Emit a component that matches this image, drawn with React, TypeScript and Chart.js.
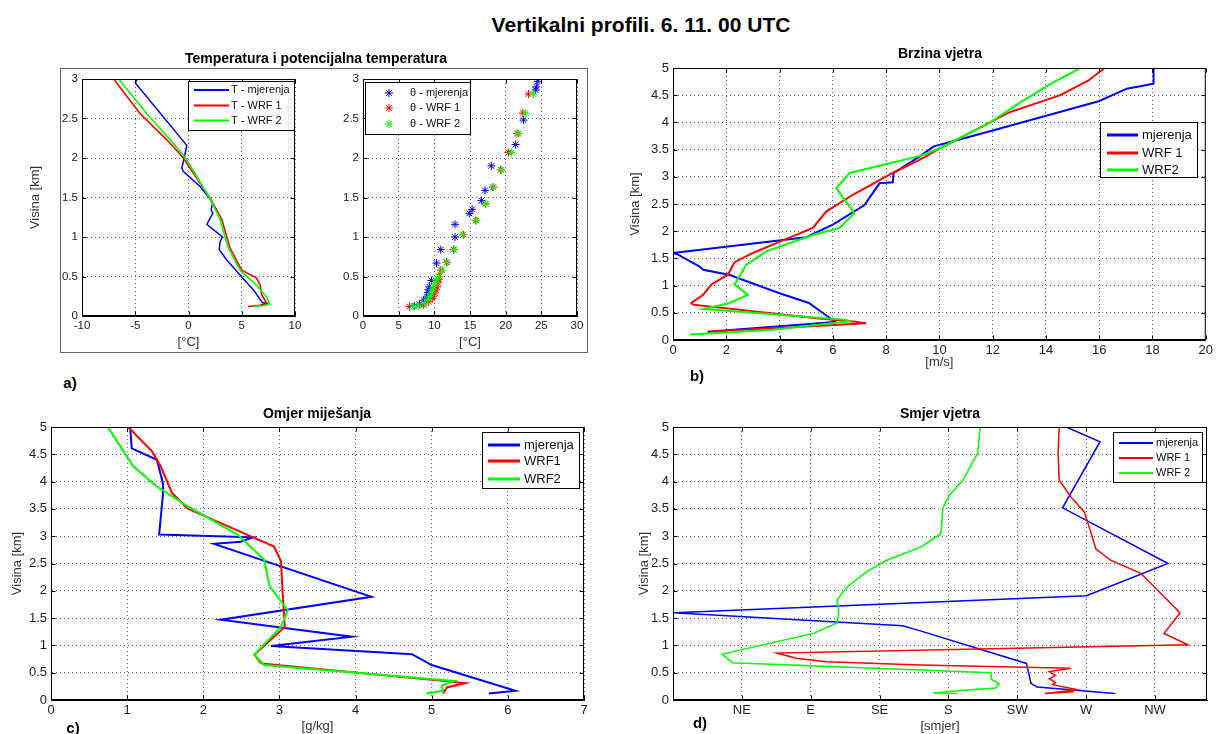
import React, { useEffect, useRef } from "react";
import { Chart, registerables } from "chart.js";

Chart.register(...registerables);

const FONT = '"Liberation Sans", Arial, Helvetica, sans-serif';
const BLUE = "#0000ff";
const RED = "#ff0000";
const GREEN = "#00ff00";

// ---------- a) temperature ----------
const tObsH = [3.0, 2.95, 2.16, 2.06, 1.91, 1.88, 1.83, 1.64, 1.47, 1.43, 1.34, 1.3, 1.16, 1.0, 0.94, 0.84, 0.71, 0.52, 0.33, 0.17, 0.16, 0.14];
const tObsT = [-4.8, -5.0, -0.16, -0.31, -0.56, -0.63, -0.5, 1.09, 2.09, 2.25, 2.13, 2.28, 1.72, 3.19, 2.97, 2.88, 3.6, 4.84, 6.1, 6.94, 7.34, 6.8];
const tWrf1H = [3.0, 2.56, 2.23, 2.01, 1.87, 1.68, 1.48, 1.22, 1.0, 0.86, 0.58, 0.48, 0.39, 0.27, 0.16, 0.14, 0.12];
const tWrf1T = [-7.03, -4.53, -2.03, -0.53, 0.16, 1.09, 2.09, 3.13, 3.59, 3.9, 5.0, 6.4, 6.72, 6.88, 7.34, 7.0, 5.6];
const tWrf2H = [3.0, 2.56, 2.23, 2.02, 1.87, 1.68, 1.48, 1.22, 1.0, 0.86, 0.58, 0.39, 0.24, 0.15, 0.13, 0.12];
const tWrf2T = [-6.56, -3.9, -1.72, -0.4, 0.31, 1.15, 2.05, 2.97, 3.44, 3.75, 4.84, 6.4, 7.34, 7.6, 7.03, 6.1];

// ---------- a) potential temperature ----------
const thObsH = [2.97, 2.9, 2.86, 2.48, 2.17, 1.9, 1.59, 1.46, 1.35, 1.3, 1.16, 1.0, 0.84, 0.67, 0.45, 0.37, 0.33, 0.3, 0.24, 0.2, 0.15, 0.13];
const thObsV = [24.5, 24.3, 24.2, 22.5, 21.4, 18.0, 17.1, 16.6, 15.3, 14.9, 12.9, 12.9, 10.9, 10.3, 9.6, 9.3, 9.2, 9.1, 8.9, 8.5, 7.9, 7.2];
const thWrf1H = [2.81, 2.57, 2.31, 2.07, 1.85, 1.63, 1.42, 1.21, 1.03, 0.84, 0.68, 0.58, 0.5, 0.46, 0.42, 0.37, 0.33, 0.29, 0.25, 0.22, 0.18, 0.14, 0.12];
const thWrf1V = [23.2, 22.4, 21.6, 20.4, 19.3, 18.2, 17.2, 15.8, 14.1, 12.7, 11.7, 10.9, 10.7, 10.6, 10.5, 10.4, 10.2, 10.05, 9.85, 9.7, 9.2, 8.5, 6.5];
const thWrf2H = [2.81, 2.57, 2.31, 2.07, 1.85, 1.63, 1.42, 1.21, 1.03, 0.84, 0.68, 0.58, 0.5, 0.46, 0.42, 0.37, 0.33, 0.29, 0.25, 0.21, 0.16, 0.13, 0.12];
const thWrf2V = [23.9, 22.8, 21.8, 20.8, 19.4, 18.3, 17.2, 15.9, 14.0, 12.8, 11.8, 11.1, 10.6, 10.3, 10.1, 9.9, 9.7, 9.6, 9.4, 9.1, 8.6, 7.8, 7.1];

// ---------- b) wind speed ----------
const wsObsH = [0.15, 0.33, 0.4, 0.68, 0.86, 1.2, 1.29, 1.35, 1.57, 1.6, 1.89, 2.12, 2.48, 2.88, 2.9, 3.07, 3.37, 3.56, 3.65, 3.85, 4.39, 4.62, 4.71, 4.98, 5.0];
const wsObsV = [1.3, 6.1, 5.9, 5.1, 4.0, 2.1, 1.13, 1.0, 0.19, 0.0, 5.0, 6.0, 7.19, 7.75, 8.25, 8.28, 9.25, 9.79, 10.48, 12.0, 15.98, 17.04, 18.04, 18.04, 18.1];
const wsWrf1H = [0.15, 0.31, 0.34, 0.4, 0.65, 0.68, 0.83, 1.02, 1.2, 1.43, 1.6, 1.78, 2.06, 2.36, 2.67, 3.07, 3.31, 3.52, 3.91, 4.18, 4.5, 4.77, 5.0];
const wsWrf1V = [1.38, 7.25, 6.75, 5.38, 0.75, 0.69, 1.13, 1.44, 2.06, 2.31, 3.0, 3.88, 5.25, 5.75, 6.75, 8.25, 9.25, 10.0, 11.54, 12.6, 14.54, 15.6, 16.2];
const wsWrf2H = [0.1, 0.19, 0.34, 0.37, 0.57, 0.68, 0.83, 1.02, 1.38, 1.63, 1.93, 2.06, 2.33, 2.79, 3.07, 3.38, 3.52, 3.98, 4.35, 4.72, 5.0];
const wsWrf2V = [0.63, 3.75, 6.63, 6.5, 1.16, 2.13, 2.81, 2.31, 2.75, 3.5, 5.25, 6.25, 6.81, 6.13, 6.63, 9.25, 10.0, 11.85, 12.98, 14.23, 15.29];

// ---------- c) mixing ratio ----------
const mrObsH = [4.99, 4.61, 4.4, 3.97, 3.76, 3.03, 2.98, 2.9, 2.86, 1.89, 1.47, 1.16, 0.99, 0.84, 0.64, 0.17, 0.12];
const mrObsV = [1.04, 1.06, 1.39, 1.47, 1.47, 1.42, 2.65, 2.49, 2.14, 4.21, 2.23, 3.95, 2.89, 4.74, 5.0, 6.1, 5.75];
const mrWrf1H = [4.99, 4.55, 4.28, 3.79, 3.51, 3.06, 2.81, 2.54, 2.02, 1.34, 1.22, 0.83, 0.67, 0.31, 0.23, 0.12];
const mrWrf1V = [1.02, 1.33, 1.44, 1.59, 1.79, 2.52, 2.93, 3.02, 3.04, 3.07, 2.98, 2.67, 2.76, 5.44, 5.2, 5.15];
const mrWrf2H = [4.99, 4.8, 4.28, 3.91, 3.55, 3.03, 2.57, 2.08, 1.65, 1.34, 0.83, 0.64, 0.35, 0.26, 0.17, 0.12];
const mrWrf2V = [0.75, 0.84, 1.08, 1.39, 1.79, 2.45, 2.8, 2.87, 3.11, 3.02, 2.67, 2.8, 5.29, 5.13, 5.15, 4.93];

// ---------- d) wind direction (degrees) ----------
const wdObsH = [4.99, 4.73, 3.52, 2.5, 1.91, 1.6, 1.36, 1.28, 0.67, 0.3, 0.24, 0.12];
const wdObsV = [257.8, 279.1, 254.6, 323.5, 270.2, 0.5, 150, 160, 231, 234, 238, 289];
const wdWrf1H = [4.99, 4.52, 4.03, 3.72, 3.45, 3.02, 2.77, 2.56, 2.32, 1.65, 1.59, 1.22, 1.01, 0.86, 0.76, 0.7, 0.64, 0.58, 0.52, 0.45, 0.39, 0.32, 0.28, 0.19, 0.12, 0.15];
const wdWrf1V = [252.4, 251.7, 252.4, 260, 268.7, 273.7, 276.3, 286, 305.7, 329.6, 331.3, 320.9, 336.5, 68, 81, 100.6, 161.5, 260, 246, 250, 246, 250, 248, 264, 243, 262];
const wdWrf2H = [4.99, 4.52, 4.02, 3.75, 3.51, 3.05, 2.8, 2.56, 2.35, 2.07, 1.83, 1.59, 1.41, 1.22, 0.84, 0.68, 0.5, 0.38, 0.3, 0.22, 0.17, 0.13, 0.12];
const wdWrf2V = [200.7, 199.1, 189.3, 180.7, 176.3, 175.2, 162, 139.8, 126.7, 113.7, 107.2, 108.3, 107.2, 92, 32.2, 38.7, 207.8, 208, 213, 211, 186, 170, 186];

// ---------- ticks ----------
const tempTicks = [-10, -5, 0, 5, 10];
const thetaTicks = [0, 5, 10, 15, 20, 25, 30];
const heightTicks3 = [0, 0.5, 1, 1.5, 2, 2.5, 3];
const heightTicks5 = [0, 0.5, 1, 1.5, 2, 2.5, 3, 3.5, 4, 4.5, 5];
const speedTicks = [0, 2, 4, 6, 8, 10, 12, 14, 16, 18, 20];
const mixTicks = [0, 1, 2, 3, 4, 5, 6, 7];
const dirTicks = [45, 90, 135, 180, 225, 270, 315];
const dirLabels = ["NE", "E", "SE", "S", "SW", "W", "NW"];

const pts = (xs: number[], hs: number[]) => xs.map((x, i) => ({ x, y: hs[i] }));

function lineDs(label: string, xs: number[], hs: number[], color: string, width: number, order: number) {
  return {
    label,
    data: pts(xs, hs),
    borderColor: color,
    backgroundColor: color,
    showLine: true,
    pointRadius: 0,
    borderWidth: width,
    tension: 0,
    order,
  };
}

function starDs(label: string, xs: number[], hs: number[], color: string, order: number) {
  return {
    label,
    data: pts(xs, hs),
    borderColor: color,
    backgroundColor: color,
    pointBorderColor: color,
    showLine: false,
    pointStyle: "star",
    pointRadius: 4,
    pointBorderWidth: 1,
    order,
  };
}

const matlabPlugin = {
  id: "matlab",
  afterDraw(chart: any, _args: any, opts: any) {
    const { ctx, chartArea: a } = chart;
    const xs = chart.scales.x;
    const ys = chart.scales.y;
    ctx.save();
    ctx.setLineDash([]);
    ctx.strokeStyle = "#000";
    ctx.lineWidth = 1;
    const L = a.left + 0.5, R = a.right - 0.5, T = a.top + 0.5, B = a.bottom - 0.5;
    ctx.beginPath();
    for (const t of xs.ticks) {
      const px = Math.round(xs.getPixelForValue(t.value)) + 0.5;
      ctx.moveTo(px, B); ctx.lineTo(px, B - 4);
      ctx.moveTo(px, T); ctx.lineTo(px, T + 4);
    }
    for (const t of ys.ticks) {
      const py = Math.round(ys.getPixelForValue(t.value)) + 0.5;
      ctx.moveTo(L, py); ctx.lineTo(L + 4, py);
      ctx.moveTo(R, py); ctx.lineTo(R - 4, py);
    }
    ctx.stroke();
    ctx.strokeRect(L, T, R - L, B - T);

    const lg = opts && opts.box;
    if (lg) {
      ctx.fillStyle = "#fff";
      ctx.fillRect(lg.x, lg.y, lg.w, lg.h);
      ctx.strokeStyle = "#000";
      ctx.lineWidth = 1;
      ctx.strokeRect(lg.x + 0.5, lg.y + 0.5, lg.w, lg.h);
      ctx.font = `${lg.size}px ${FONT}`;
      ctx.textBaseline = "middle";
      ctx.textAlign = "left";
      chart.data.datasets.forEach((ds: any, i: number) => {
        const y = lg.rows[i];
        ctx.strokeStyle = ds.borderColor;
        if (lg.star) {
          const r = 4, cx = lg.x0, d = r * 0.707;
          ctx.lineWidth = 1;
          ctx.beginPath();
          ctx.moveTo(cx - r, y); ctx.lineTo(cx + r, y);
          ctx.moveTo(cx, y - r); ctx.lineTo(cx, y + r);
          ctx.moveTo(cx - d, y - d); ctx.lineTo(cx + d, y + d);
          ctx.moveTo(cx - d, y + d); ctx.lineTo(cx + d, y - d);
          ctx.stroke();
        } else {
          ctx.lineWidth = lg.lw;
          ctx.beginPath();
          ctx.moveTo(lg.x0, y); ctx.lineTo(lg.x1, y);
          ctx.stroke();
        }
        ctx.fillStyle = "#111";
        ctx.fillText(ds.label, lg.tx, y);
      });
    }
    ctx.restore();
  },
};

type Box = { left: number; top: number; w: number; h: number };
type Area = { l: number; t: number; r: number; b: number };
type Spec = {
  canvas: Box;
  area: Area;
  datasets: any[];
  xMin: number; xMax: number; xTicks: number[]; xFmt?: (v: number) => string;
  yMax: number; yTicks: number[];
  tickSize: number;
  xTitle: string; xTitleY: number;
  yTitle?: string; yTitleX?: number;
  legend: { x: number; y: number; w: number; h: number; x0: number; x1: number; tx: number; rows: number[]; size: number; lw: number; star?: boolean };
};

function buildConfig(p: Spec) {
  const c = p.canvas, a = p.area;
  const yW = a.l - c.left;
  const xH = c.top + c.h - a.b;
  const titleSize = 13;
  const lh = titleSize * 1.2;
  const tickFont = { family: FONT, size: p.tickSize };
  const grid = { color: "rgba(0,0,0,0.6)", lineWidth: 1, drawTicks: false };
  const border = { display: true, color: "#000", width: 1, dash: [1, 3] };
  const lg = p.legend;
  return {
    type: "scatter",
    data: { datasets: p.datasets },
    options: {
      responsive: false,
      animation: false,
      events: [],
      layout: { padding: { left: 0, top: a.t - c.top, right: c.left + c.w - a.r, bottom: 0 } },
      plugins: {
        legend: { display: false },
        tooltip: { enabled: false },
        matlab: {
          box: {
            x: lg.x - c.left, y: lg.y - c.top, w: lg.w, h: lg.h,
            x0: lg.x0 - c.left, x1: lg.x1 - c.left, tx: lg.tx - c.left,
            rows: lg.rows.map((r) => r - c.top), size: lg.size, lw: lg.lw, star: !!lg.star,
          },
        },
      },
      scales: {
        x: {
          type: "linear",
          position: "bottom",
          min: p.xMin,
          max: p.xMax,
          afterBuildTicks: (s: any) => { s.ticks = p.xTicks.map((v) => ({ value: v })); },
          afterFit: (s: any) => { s.height = xH; },
          ticks: { font: tickFont, color: "#222", padding: 3, autoSkip: false, maxRotation: 0, callback: (v: any) => (p.xFmt ? p.xFmt(v) : String(v)) },
          grid,
          border,
          title: {
            display: true, text: p.xTitle, color: "#333",
            font: { family: FONT, size: titleSize },
            padding: { top: 0, bottom: Math.max(0, c.top + c.h - p.xTitleY - lh / 2) },
          },
        },
        y: {
          type: "linear",
          position: "left",
          min: 0,
          max: p.yMax,
          afterBuildTicks: (s: any) => { s.ticks = p.yTicks.map((v) => ({ value: v })); },
          afterFit: (s: any) => { s.width = yW; },
          ticks: { font: tickFont, color: "#222", padding: 4, autoSkip: false, callback: (v: any) => String(v) },
          grid,
          border,
          title: p.yTitle
            ? {
                display: true, text: p.yTitle, color: "#333",
                font: { family: FONT, size: titleSize },
                padding: { top: Math.max(0, (p.yTitleX as number) - c.left - lh / 2), bottom: 0 },
              }
            : { display: false },
        },
      },
    },
    plugins: [matlabPlugin],
  };
}

const specs: Spec[] = [
  {
    canvas: { left: 10, top: 60, w: 300, h: 300 },
    area: { l: 82, t: 79, r: 295, b: 316 },
    datasets: [
      lineDs("T - mjerenja", tObsT, tObsH, BLUE, 1.5, 2),
      lineDs("T - WRF 1", tWrf1T, tWrf1H, RED, 1.6, 1),
      lineDs("T - WRF 2", tWrf2T, tWrf2H, GREEN, 1.6, 0),
    ],
    xMin: -10, xMax: 10, xTicks: tempTicks, yMax: 3, yTicks: heightTicks3, tickSize: 11.5,
    xTitle: "[°C]", xTitleY: 342, yTitle: "Visina [km]", yTitleX: 35,
    legend: { x: 188, y: 81, w: 106, h: 49, x0: 194, x1: 229, tx: 231, rows: [90, 105.5, 120.5], size: 11, lw: 2 },
  },
  {
    canvas: { left: 310, top: 60, w: 280, h: 300 },
    area: { l: 363, t: 79, r: 577, b: 316 },
    datasets: [
      starDs("θ - mjerenja", thObsV, thObsH, BLUE, 2),
      starDs("θ - WRF 1", thWrf1V, thWrf1H, RED, 1),
      starDs("θ - WRF 2", thWrf2V, thWrf2H, GREEN, 0),
    ],
    xMin: 0, xMax: 30, xTicks: thetaTicks, yMax: 3, yTicks: heightTicks3, tickSize: 11.5,
    xTitle: "[°C]", xTitleY: 342,
    legend: { x: 365, y: 82, w: 105, h: 52, x0: 389, x1: 389, tx: 410, rows: [93, 108, 124], size: 11, lw: 1, star: true },
  },
  {
    canvas: { left: 610, top: 40, w: 606, h: 340 },
    area: { l: 673, t: 68, r: 1207, b: 340 },
    datasets: [
      lineDs("mjerenja", wsObsV, wsObsH, BLUE, 2, 2),
      lineDs("WRF 1", wsWrf1V, wsWrf1H, RED, 2, 1),
      lineDs("WRF2", wsWrf2V, wsWrf2H, GREEN, 2, 0),
    ],
    xMin: 0, xMax: 20, xTicks: speedTicks, yMax: 5, yTicks: heightTicks5, tickSize: 13,
    xTitle: "[m/s]", xTitleY: 362, yTitle: "Visina [km]", yTitleX: 635,
    legend: { x: 1100, y: 122, w: 97, h: 55, x0: 1107, x1: 1138, tx: 1142, rows: [135, 153, 170], size: 13, lw: 3 },
  },
  {
    canvas: { left: 0, top: 410, w: 600, h: 324 },
    area: { l: 51, t: 427, r: 584, b: 700 },
    datasets: [
      lineDs("mjerenja", mrObsV, mrObsH, BLUE, 2, 2),
      lineDs("WRF1", mrWrf1V, mrWrf1H, RED, 2, 1),
      lineDs("WRF2", mrWrf2V, mrWrf2H, GREEN, 2, 0),
    ],
    xMin: 0, xMax: 7, xTicks: mixTicks, yMax: 5, yTicks: heightTicks5, tickSize: 13,
    xTitle: "[g/kg]", xTitleY: 727, yTitle: "Visina [km]", yTitleX: 17,
    legend: { x: 482, y: 432, w: 97, h: 56, x0: 488, x1: 520, tx: 524, rows: [445, 461, 479], size: 13, lw: 3 },
  },
  {
    canvas: { left: 610, top: 410, w: 606, h: 324 },
    area: { l: 673, t: 427, r: 1207, b: 700 },
    datasets: [
      lineDs("mjerenja", wdObsV, wdObsH, BLUE, 1.5, 2),
      lineDs("WRF 1", wdWrf1V, wdWrf1H, RED, 1.5, 1),
      lineDs("WRF 2", wdWrf2V, wdWrf2H, GREEN, 1.5, 0),
    ],
    xMin: 0, xMax: 349, xTicks: dirTicks, xFmt: (v: number) => dirLabels[dirTicks.indexOf(v)] ?? "",
    yMax: 5, yTicks: heightTicks5, tickSize: 13,
    xTitle: "[smjer]", xTitleY: 726, yTitle: "Visina [km]", yTitleX: 644,
    legend: { x: 1113, y: 432, w: 89, h: 50, x0: 1119, x1: 1153, tx: 1156, rows: [443, 458, 473], size: 11, lw: 2 },
  },
];

function Panel({ spec }: { spec: Spec }) {
  const ref = useRef<HTMLCanvasElement | null>(null);
  useEffect(() => {
    if (!ref.current) return;
    const chart = new Chart(ref.current, buildConfig(spec) as any);
    return () => chart.destroy();
  }, [spec]);
  const c = spec.canvas;
  return (
    <canvas
      ref={ref}
      width={c.w}
      height={c.h}
      style={{ position: "absolute", left: c.left, top: c.top, width: c.w, height: c.h }}
    />
  );
}

function Label({ text, x, y, size, bold }: { text: string; x: number; y: number; size: number; bold?: boolean }) {
  return (
    <div
      style={{
        position: "absolute",
        left: x,
        top: y,
        transform: "translate(-50%, -50%)",
        font: `${bold ? "bold " : ""}${size}px ${FONT}`,
        lineHeight: 1,
        whiteSpace: "nowrap",
        color: "#000",
      }}
    >
      {text}
    </div>
  );
}

export default function App() {
  return (
    <div style={{ position: "fixed", left: 0, top: 0, width: 1216, height: 734, background: "#fff", overflow: "hidden" }}>
      <div style={{ position: "absolute", left: 60, top: 68, width: 526, height: 283, border: "1px solid #666", background: "#fff" }} />
      {specs.map((s, i) => (
        <Panel key={i} spec={s} />
      ))}
      <Label text="Vertikalni profili. 6. 11. 00 UTC" x={641} y={24} size={21} bold />
      <Label text="Temperatura i potencijalna temperatura" x={316} y={58} size={14} bold />
      <Label text="Brzina vjetra" x={940} y={53} size={14} bold />
      <Label text="Omjer miješanja" x={317} y={413} size={14} bold />
      <Label text="Smjer vjetra" x={940} y={413} size={14} bold />
      <Label text="a)" x={70} y={382} size={15} bold />
      <Label text="b)" x={697} y={375} size={15} bold />
      <Label text="c)" x={73} y={727} size={15} bold />
      <Label text="d)" x={700} y={722} size={15} bold />
    </div>
  );
}
